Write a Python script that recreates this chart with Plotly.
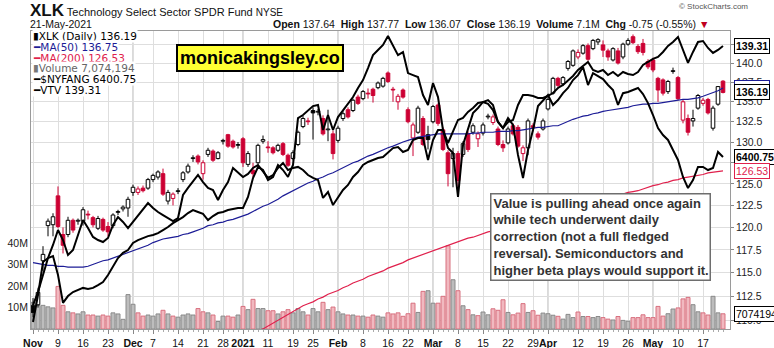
import math
import pandas as pd
import plotly.graph_objects as go

# ---------------------------------------------------------------- calendar
HOLIDAYS = ["2020-11-26", "2020-12-25", "2021-01-01", "2021-01-18",
            "2021-02-15", "2021-04-02"]
dates = [d.strftime("%Y-%m-%d") for d in pd.bdate_range("2020-11-02", "2021-05-21")
         if d.strftime("%Y-%m-%d") not in HOLIDAYS]

# ---------------------------------------------------------------- XLK daily
xlk_open = [111.5, 111.6, 116.3, 120.2, 120.3, 123.6, 119.2, 119.2, 120.8, 120.7,
            120.7, 121.5, 121.1, 119.9, 120.9, 120.1, 120.2, 121.7, 122.1, 122.2,
            124.0, 124.0, 124.5, 124.5, 125.5, 125.8, 126.2, 123.0, 123.3, 124.1,
            125.5, 126.4, 128.0, 128.3, 126.2, 128.5, 128.9, 128.0, 130.1, 130.9,
            130.1, 129.6, 130.4, 127.3, 126.6, 127.5, 130.1, 129.4, 129.3, 129.0,
            129.8, 128.4, 128.0, 129.7, 131.9, 132.6, 133.9, 133.7, 132.9, 131.5,
            131.0, 130.2, 132.9, 134.0, 133.9, 135.6, 135.4, 136.1, 136.6, 136.8,
            137.0, 138.7, 136.6, 135.0, 136.5, 134.0, 130.5, 131.2, 132.9, 130.9,
            132.5, 134.6, 131.5, 128.7, 128.0, 128.6, 128.5, 131.0, 131.2, 130.4,
            131.1, 133.1, 132.4, 131.6, 129.7, 129.9, 132.0, 131.8, 128.6, 129.3,
            132.0, 131.0, 131.6, 134.1, 136.1, 138.0, 137.3, 139.3, 139.7, 140.8,
            141.3, 142.3, 141.9, 142.8, 142.4, 141.6, 140.4, 141.6, 140.8, 142.5,
            143.5, 142.2, 142.6, 140.2, 140.4, 138.0, 137.8, 136.3, 138.9, 138.1,
            132.7, 132.9, 132.6, 134.2, 134.8, 135.3, 131.7, 134.7, 137.64]
xlk_high = [112.3, 113.4, 117.9, 121.0, 121.6, 124.7, 120.0, 121.2, 121.0, 121.0,
            122.3, 121.9, 121.3, 121.3, 121.1, 120.6, 121.6, 122.0, 122.5, 123.5,
            124.9, 124.7, 124.8, 125.7, 126.2, 126.6, 126.8, 124.3, 124.0, 124.5,
            126.5, 127.4, 128.4, 128.5, 127.8, 129.3, 129.1, 128.9, 130.4, 131.0,
            130.3, 130.0, 130.6, 128.9, 127.5, 129.8, 130.8, 130.1, 129.5, 129.8,
            130.0, 128.6, 129.0, 131.4, 133.2, 133.0, 134.3, 134.1, 133.3, 134.0,
            131.4, 132.0, 133.8, 134.3, 135.4, 135.9, 136.5, 136.7, 136.8, 137.6,
            138.2, 138.9, 136.9, 136.0, 136.7, 134.3, 132.4, 134.5, 133.2, 132.0,
            134.6, 134.8, 131.8, 129.0, 129.3, 128.9, 130.1, 131.3, 132.3, 131.3,
            132.4, 133.5, 133.4, 131.9, 130.2, 131.9, 132.3, 132.1, 129.6, 132.9,
            132.3, 131.3, 132.9, 135.6, 138.2, 138.2, 138.3, 140.4, 141.8, 141.8,
            142.5, 142.6, 143.2, 143.3, 143.0, 141.9, 142.1, 142.0, 142.7, 143.3,
            143.8, 142.5, 143.2, 140.5, 140.7, 138.2, 138.0, 137.8, 139.4, 138.3,
            135.3, 133.4, 134.0, 136.0, 135.5, 135.5, 134.5, 137.0, 137.77]
xlk_low = [110.3, 111.3, 115.2, 119.0, 119.0, 119.9, 117.1, 118.9, 119.4, 120.3,
           120.2, 120.9, 120.0, 119.7, 119.5, 119.0, 119.9, 121.4, 121.8, 121.2,
           123.6, 123.7, 124.0, 124.3, 125.2, 125.5, 123.6, 122.6, 122.5, 123.8,
           125.2, 126.2, 127.6, 127.3, 125.5, 128.2, 127.6, 127.9, 129.7, 129.3,
           129.2, 129.2, 127.0, 127.0, 125.8, 127.3, 129.8, 128.7, 128.5, 128.8,
           128.3, 127.0, 127.8, 129.5, 131.7, 132.1, 130.3, 133.3, 130.8, 130.1,
           127.9, 129.9, 132.6, 132.9, 133.7, 134.6, 135.2, 135.4, 134.9, 136.6,
           136.8, 137.4, 135.0, 134.0, 135.4, 132.3, 128.3, 131.0, 129.5, 129.1,
           132.3, 132.0, 128.9, 124.7, 124.6, 123.5, 128.2, 128.8, 130.9, 129.4,
           130.8, 132.8, 132.1, 129.5, 128.8, 129.7, 130.8, 129.3, 127.7, 128.4,
           131.3, 130.3, 131.4, 133.9, 135.9, 136.8, 137.0, 139.0, 139.5, 140.5,
           141.1, 140.3, 141.7, 142.4, 140.8, 140.3, 140.2, 139.8, 140.5, 142.3,
           142.5, 141.2, 141.0, 139.2, 138.8, 135.0, 135.8, 136.0, 138.6, 135.2,
           132.3, 130.8, 131.9, 134.0, 134.5, 133.4, 131.4, 134.5, 136.07]
xlk_close = [110.8, 112.9, 117.0, 120.7, 121.2, 120.1, 118.0, 120.8, 119.7, 120.8,
             122.0, 121.4, 120.3, 121.0, 119.7, 119.5, 121.4, 121.8, 122.3, 123.2,
             124.6, 124.4, 124.2, 125.5, 126.0, 126.4, 123.8, 124.0, 123.8, 124.2,
             126.3, 127.1, 128.1, 127.6, 127.5, 129.0, 127.8, 128.7, 130.2, 129.5,
             129.4, 129.7, 127.5, 128.6, 126.2, 129.6, 130.3, 129.3, 128.7, 129.6,
             128.5, 127.2, 128.7, 131.2, 132.9, 132.5, 133.6, 133.8, 131.0, 131.6,
             128.6, 131.7, 133.5, 133.1, 135.2, 134.8, 136.3, 136.0, 135.8, 137.4,
             138.0, 137.6, 136.5, 135.7, 135.6, 132.5, 132.1, 134.2, 129.7, 130.3,
             134.4, 132.3, 129.1, 126.2, 128.6, 125.4, 129.8, 129.1, 132.0, 131.0,
             132.1, 133.2, 133.1, 129.7, 129.3, 131.6, 131.0, 129.5, 129.3, 132.6,
             131.8, 130.6, 132.6, 135.3, 138.0, 137.1, 138.1, 140.2, 141.6, 141.4,
             142.3, 140.5, 143.0, 143.1, 141.7, 140.8, 141.9, 140.0, 142.5, 143.0,
             142.7, 141.5, 141.4, 139.5, 139.1, 136.5, 136.1, 137.6, 139.0, 135.4,
             135.0, 131.2, 132.9, 135.8, 135.2, 133.6, 134.2, 136.94, 136.19]
prev_close_first = 110.6

# volume, millions of shares
xlk_volume_m = [12.4, 11.0, 11.0, 10.3, 9.8, 19.8, 11.0, 8.0, 7.5, 7.0,
                8.0, 6.5, 6.5, 6.0, 6.5, 6.0, 7.5, 7.0, 4.5, 16.0,
                11.5, 7.5, 6.0, 6.5, 6.0, 7.0, 8.7, 7.0, 6.0, 5.5,
                6.5, 7.0, 6.5, 9.5, 8.0, 7.5, 6.5, 3.5, 6.0, 6.0,
                5.5, 6.5, 10.5, 9.0, 13.8, 9.5, 9.5, 8.5, 8.5, 7.0,
                8.0, 9.0, 7.5, 9.5, 8.0, 6.5, 9.5, 8.0, 12.4, 9.0,
                10.2, 8.0, 7.0, 6.5, 6.5, 6.0, 6.0, 5.5, 6.5, 6.0,
                5.5, 7.5, 7.0, 7.5, 5.9, 7.1, 12.0, 7.7, 17.5, 17.8,
                12.0, 12.0, 15.2, 38.7, 22.9, 17.8, 10.8, 9.0, 6.6, 6.2,
                7.9, 6.6, 9.4, 8.7, 13.6, 7.7, 6.6, 7.4, 11.8, 7.7,
                8.5, 6.4, 7.4, 7.1, 6.4, 5.9, 4.6, 6.8, 5.3, 7.9,
                5.8, 5.8, 5.3, 5.8, 5.3, 4.6, 4.2, 5.8, 4.0, 3.6,
                5.3, 5.3, 6.6, 5.3, 5.3, 10.5, 6.0, 7.1, 9.3, 9.8,
                14.0, 14.7, 11.3, 8.0, 7.5, 6.5, 15.2, 7.5, 7.074194]

ma50 = [116.1, 116.0, 115.9, 115.8, 115.8, 115.7, 115.7, 115.6, 115.6, 115.6,
        115.6, 115.7, 115.9, 116.1, 116.3, 116.4, 116.6, 116.8, 117.0, 117.2,
        117.4, 117.6, 117.8, 118.0, 118.3, 118.5, 118.7, 118.8, 118.9, 119.0,
        119.2, 119.3, 119.5, 119.7, 119.9, 120.2, 120.3, 120.5, 120.6, 120.8,
        120.9, 121.1, 121.3, 121.5, 121.8, 122.1, 122.4, 122.6, 122.9, 123.2,
        123.6, 123.9, 124.2, 124.5, 124.8, 125.1, 125.3, 125.6, 125.8, 126.1,
        126.3, 126.6, 126.9, 127.2, 127.5, 127.7, 128.0, 128.3, 128.5, 128.8,
        129.0, 129.3, 129.5, 129.8, 130.0, 130.2, 130.4, 130.6, 130.7, 130.8,
        130.9, 131.0, 131.0, 131.0, 131.0, 131.0, 131.0, 131.0, 131.1, 131.1,
        131.2, 131.2, 131.2, 131.3, 131.3, 131.3, 131.4, 131.4, 131.5, 131.6,
        131.7, 131.8, 131.8, 131.9, 132.0, 132.0, 132.3, 132.5, 132.8, 133.0,
        133.2, 133.3, 133.5, 133.6, 133.8, 133.9, 134.0, 134.1, 134.2, 134.3,
        134.5, 134.6, 134.7, 134.7, 134.8, 134.8, 134.9, 135.0, 135.1, 135.2,
        135.3, 135.3, 135.4, 135.5, 135.7, 135.9, 136.1, 136.4, 136.75]

ma200 = [None] * 40 + [
        107.4, 107.7, 108.0, 108.3, 108.6, 108.9, 109.1, 109.4, 109.7, 110.0,
        110.3, 110.6, 110.9, 111.2, 111.5, 111.7, 111.9, 112.2, 112.4, 112.7,
        112.9, 113.1, 113.4, 113.6, 113.9, 114.1, 114.3, 114.6, 114.8, 115.0,
        115.2, 115.5, 115.7, 115.9, 116.1, 116.4, 116.6, 116.8, 117.0, 117.2,
        117.4, 117.6, 117.8, 118.0, 118.2, 118.4, 118.6, 118.8, 118.9, 119.1,
        119.3, 119.5, 119.6, 119.8, 120.0, 120.1, 120.3, 120.5, 120.6, 120.8,
        121.0, 121.1, 121.3, 121.4, 121.6, 121.8, 121.9, 122.1, 122.3, 122.4,
        122.6, 122.7, 122.9, 123.1, 123.2, 123.4, 123.5, 123.7, 123.8, 124.0,
        124.1, 124.2, 124.4, 124.6, 124.8, 124.9, 125.1, 125.2, 125.4, 125.5,
        125.7, 125.8, 125.9, 126.0, 126.1, 126.3, 126.4, 126.5, 126.53]

nyfang = [5483, 5623, 5800, 5822, 5833, 5730, 5582, 5618, 5639, 5650,
          5661, 5655, 5661, 5676, 5692, 5730, 5779, 5822, 5850, 5866,
          5905, 5921, 5932, 5943, 5949, 5960, 5977, 5994, 6016, 6033,
          6050, 6073, 6090, 6079, 6068, 6033, 6056, 6073, 6079, 6090,
          6096, 6102, 6102, 6165, 6276, 6341, 6323, 6264, 6282, 6353,
          6323, 6282, 6353, 6639, 6658, 6689, 6714, 6721, 6565, 6658,
          6565, 6645, 6689, 6733, 6771, 6829, 6880, 6958, 7043, 7077,
          7110, 7170, 7110, 7043, 7063, 6925, 6912, 6899, 6784, 6721,
          6861, 6771, 6565, 6455, 6425, 6165, 6473, 6565, 6670, 6702,
          6740, 6752, 6721, 6615, 6577, 6639, 6596, 6413, 6276, 6443,
          6565, 6714, 6752, 6784, 6721, 6752, 6796, 6829, 6880, 6912,
          6965, 6848, 6925, 6906, 6886, 6848, 6816, 6721, 6796, 6803,
          6816, 6829, 6790, 6733, 6658, 6577, 6534, 6504, 6443, 6383,
          6282, 6217, 6264, 6341, 6341, 6323, 6335, 6431, 6400.75]

vtv = [109.26, 110.60, 112.38, 114.19, 115.59, 117.22, 116.13, 114.51, 115.05, 116.68,
       118.33, 117.44, 116.46, 116.13, 115.91, 116.35, 117.78, 118.66, 118.11, 117.44,
       118.11, 118.77, 119.44, 120.23, 119.67, 119.22, 118.88, 118.55, 118.22, 118.55,
       121.14, 121.94, 122.62, 123.43, 122.62, 121.94, 121.71, 120.57, 121.71, 122.62,
       124.25, 123.67, 123.20, 123.55, 124.25, 124.60, 123.78, 123.09, 123.43, 124.25,
       124.83, 124.01, 124.25, 124.37, 124.01, 123.43, 123.09, 122.85, 120.80, 121.48,
       120.00, 120.91, 121.71, 122.28, 123.20, 123.78, 124.60, 124.95, 125.18, 125.42,
       125.53, 126.12, 126.59, 126.71, 126.12, 126.36, 127.55, 127.79, 127.79, 125.18,
       127.55, 128.75, 128.75, 127.19, 128.51, 129.97, 130.21, 130.95, 131.44, 132.06,
       132.18, 131.94, 131.19, 129.72, 128.99, 129.72, 129.97, 131.81, 133.05, 133.05,
       132.93, 132.68, 132.68, 132.93, 133.30, 133.93, 134.31, 134.82, 135.45, 136.21,
       136.72, 137.24, 136.21, 135.95, 136.21, 135.57, 135.95, 135.45, 135.95, 135.70,
       135.57, 135.95, 136.85, 137.24, 137.63, 137.89, 138.53, 139.31, 139.83, 140.49,
       138.79, 137.11, 138.53, 139.83, 139.96, 139.05, 138.40, 138.79, 139.31]

# ---------------------------------------------------------------- axis labels
tick_dates = ["2020-11-02", "2020-11-09", "2020-11-16", "2020-11-23", "2020-12-01",
              "2020-12-07", "2020-12-14", "2020-12-21", "2020-12-28", "2021-01-04",
              "2021-01-11", "2021-01-19", "2021-01-25", "2021-02-01", "2021-02-08",
              "2021-02-16", "2021-02-22", "2021-03-01", "2021-03-08", "2021-03-15",
              "2021-03-22", "2021-03-29", "2021-04-01", "2021-04-12", "2021-04-19",
              "2021-04-26", "2021-05-03", "2021-05-10", "2021-05-17"]
tick_text = ["<b>Nov</b>", "9", "16", "23", "<b>Dec</b>", "7", "14", "21", "28",
             "<b>2021</b>", "11", "19", "25", "<b>Feb</b>", "8", "16", "22",
             "<b>Mar</b>", "8", "15", "22", "29", "<b>Apr</b>", "12", "19", "26",
             "<b>May</b>", "10", "17"]
month_dates = ["2020-12-01", "2021-01-04", "2021-02-01", "2021-03-01",
               "2021-04-01", "2021-05-03"]
price_ticks = [110.0, 112.5, 115.0, 117.5, 120.0, 122.5, 125.0, 127.5,
               130.0, 132.5, 135.0, 137.5, 140.0, 142.5]
price_tick_text = ["110.0", "112.5", "115.0", "117.5", "120.0", "122.5", "125.0", "",
                   "130.0", "132.5", "135.0", "137.5", "140.0", ""]
volume_ticks_m = [10, 20, 30, 40]

# ---------------------------------------------------------------- styling
BLACK = "#000000"
RED = "#cc0033"
NAVY = "#1c1c96"
MA200_RED = "#e0204c"
GRID = "#dedede"
MONTH_GRID = "#b4b4b4"
FRAME = "#9a9a9a"
SANS = "Liberation Sans, Arial, sans-serif"
LEGEND_FONT = "DejaVu Sans, Verdana, sans-serif"

W, H = 774, 348
ML, MR, MT, MB = 31, 44, 31, 19


def px(x):
    return (x - ML) / (W - ML - MR)


def py(y):
    return (H - MB - y) / (H - MT - MB)


n = len(xlk_close)
idx = list(range(n))
pos = {d: i for i, d in enumerate(dates)}
prev = [prev_close_first] + xlk_close[:-1]
is_up = [xlk_close[i] >= prev[i] for i in idx]          # black vs red
is_hollow = [xlk_close[i] > xlk_open[i] for i in idx]   # open vs filled body

fig = go.Figure()

# volume histogram on the left scale
fig.add_trace(go.Bar(
    x=idx, y=[v * 1e6 for v in xlk_volume_m], yaxis="y", width=0.8,
    marker=dict(color=["#bdbdbd" if u else "#f1b9c0" for u in is_up],
                line=dict(color=["#8a8a8a" if u else "#d8707f" for u in is_up], width=1)),
    showlegend=False, hoverinfo="skip"))

# candle wicks (split around the body so hollow bodies stay clean)
for colour, flag in ((BLACK, True), (RED, False)):
    wx, wy = [], []
    for i in idx:
        if is_up[i] != flag:
            continue
        top = max(xlk_open[i], xlk_close[i])
        bot = min(xlk_open[i], xlk_close[i])
        wx += [i, i, None, i, i, None]
        wy += [xlk_high[i], top, None, bot, xlk_low[i], None]
    fig.add_trace(go.Scatter(x=wx, y=wy, yaxis="y2", mode="lines",
                             line=dict(color=colour, width=1), showlegend=False,
                             hoverinfo="skip"))

# candle bodies
body_base = [min(xlk_open[i], xlk_close[i]) for i in idx]
body_len = [max(abs(xlk_close[i] - xlk_open[i]), 0.04) for i in idx]
edge = [BLACK if u else RED for u in is_up]
fill = ["white" if h else (BLACK if u else RED) for u, h in zip(is_up, is_hollow)]
fig.add_trace(go.Bar(x=idx, y=body_len, base=body_base, yaxis="y2", width=0.72,
                     marker=dict(color=fill, line=dict(color=edge, width=1)),
                     showlegend=False, hoverinfo="skip"))

fig.add_trace(go.Scatter(x=idx, y=ma50, yaxis="y2", mode="lines",
                         line=dict(color=NAVY, width=1.2), showlegend=False, hoverinfo="skip"))
fig.add_trace(go.Scatter(x=idx, y=ma200, yaxis="y2", mode="lines",
                         line=dict(color=MA200_RED, width=1.2), showlegend=False, hoverinfo="skip"))
fig.add_trace(go.Scatter(x=idx, y=nyfang, yaxis="y4", mode="lines",
                         line=dict(color=BLACK, width=2), showlegend=False, hoverinfo="skip"))
fig.add_trace(go.Scatter(x=idx, y=vtv, yaxis="y3", mode="lines",
                         line=dict(color=BLACK, width=2), showlegend=False, hoverinfo="skip"))

shapes = [dict(type="line", xref="x", yref="paper", x0=pos[d], x1=pos[d], y0=0, y1=1,
               line=dict(color=MONTH_GRID, width=1), layer="below") for d in month_dates]

annotations = []

# header
annotations.append(dict(
    xref="paper", yref="paper", x=px(28), y=py(10), xanchor="left", yanchor="middle",
    showarrow=False,
    text="<b><span style='font-size:17px'>XLK</span></b> Technology Select Sector SPDR Fund "
         "<span style='font-size:10px'>NYSE</span>",
    font=dict(family=SANS, size=11, color="#111")))
annotations.append(dict(
    xref="paper", yref="paper", x=px(28), y=py(23.5), xanchor="left", yanchor="middle",
    showarrow=False, text="21-May-2021", font=dict(family=SANS, size=10.5, color="#111")))
annotations.append(dict(
    xref="paper", yref="paper", x=px(677), y=py(6), xanchor="left", yanchor="middle",
    showarrow=False, text="© StockCharts.com", font=dict(family=SANS, size=8, color="#555")))
annotations.append(dict(
    xref="paper", yref="paper", x=px(271), y=py(23.5), xanchor="left", yanchor="middle",
    showarrow=False,
    text="<b>Open</b> 137.64  <b>High</b> 137.77  <b>Low</b> 136.07  <b>Close</b> 136.19  "
         "<b>Volume</b> 7.1M  <b>Chg</b> -0.75 (-0.55%) <span style='color:#c00020'>▼</span>",
    font=dict(family=SANS, size=10.5, color="#111")))

# legend rows
legend_rows = [
    ("<span style='color:#000'>▮</span>", "XLK (Daily) 136.19", "#000"),
    ("<span style='color:" + NAVY + "'>━</span>", "MA(50) 136.75", NAVY),
    ("<span style='color:" + MA200_RED + "'>━</span>", "MA(200) 126.53", MA200_RED),
    ("<span style='color:#777'>▮</span>", "Volume 7,074,194", "#666"),
    ("<span style='color:#000'>━</span>", "$NYFANG 6400.75", "#000"),
    ("<span style='color:#000'>━</span>", "VTV 139.31", "#000"),
]
for k, (icon, label, col) in enumerate(legend_rows):
    annotations.append(dict(
        xref="paper", yref="paper", x=px(32), y=py(36 + 10.8 * k), xanchor="left",
        yanchor="middle", showarrow=False, text=icon + label, bgcolor="white",
        borderpad=0, font=dict(family=LEGEND_FONT, size=10.5, color=col)))

# site badge
annotations.append(dict(
    xref="paper", yref="paper", x=px(260), y=py(57.5), xanchor="center", yanchor="middle",
    showarrow=False, text="<b>monicakingsley.co</b>", bgcolor="#ffff33",
    bordercolor="#000", borderwidth=2, borderpad=2,
    font=dict(family=SANS, size=18, color="#000")))

# commentary
annotations.append(dict(
    xref="paper", yref="paper", x=px(490), y=py(237), xanchor="left", yanchor="middle",
    showarrow=False, align="left", bgcolor="white", bordercolor="#6e6e6e",
    borderwidth=1.5, borderpad=1,
    text="<b>Value is pulling ahead once again<br>while tech underwent daily<br>"
         "correction (not a full fledged<br>reversal). Semiconductors and<br>"
         "higher beta plays would support it.</b>",
    font=dict(family=SANS, size=13, color="#333")))


def value_tag(text, yref, yval, color, bold=True):
    t = "<b>" + text + "</b>" if bold else text
    return dict(xref="paper", x=px(734), xanchor="left", yref=yref, y=yval,
                yanchor="middle", showarrow=False, text=t, bgcolor="white",
                bordercolor=color, borderwidth=1, borderpad=1,
                font=dict(family=SANS, size=10.5, color=color))


annotations.append(value_tag("136.75", "y2", math.log10(ma50[-1]), NAVY, bold=False))
annotations.append(value_tag("139.31", "y3", math.log10(vtv[-1]), BLACK))
annotations.append(value_tag("136.19", "y2", math.log10(xlk_close[-1]), BLACK))
annotations.append(value_tag("6400.75", "y4", math.log10(nyfang[-1]), BLACK))
annotations.append(value_tag("126.53", "y2", math.log10(ma200[-1]), MA200_RED, bold=False))
annotations.append(value_tag("7074194", "y", xlk_volume_m[-1] * 1e6, BLACK, bold=False))

price_lo, price_hi = 109.09, 144.27
vtv_lo, vtv_hi = 106.83, 141.28
fang_lo, fang_hi = 5447.0, 7204.0
vol_hi = 138.6e6

fig.update_layout(
    width=W, height=H, autosize=False,
    margin=dict(l=ML, r=MR, t=MT, b=MB, pad=0, autoexpand=False),
    paper_bgcolor="white", plot_bgcolor="white",
    font=dict(family=SANS, size=10, color="#222"),
    showlegend=False, dragmode=False, barmode="overlay",
    xaxis=dict(range=[-0.4, n + 0.4], tickmode="array", automargin=False,
               tickvals=[pos[d] for d in tick_dates], ticktext=tick_text, tickangle=0,
               showgrid=True, gridcolor=GRID, gridwidth=1, zeroline=False,
               ticks="outside", ticklen=4, tickcolor="#888",
               showline=True, linecolor=FRAME, mirror=True,
               tickfont=dict(family=SANS, size=10.5, color="#111"),
               minor=dict(tickmode="array", tickvals=idx, ticks="outside", ticklen=2,
                          tickcolor="#aaaaaa", showgrid=False),
               fixedrange=True),
    yaxis=dict(range=[0, vol_hi], tickmode="array", automargin=False,
               tickvals=[v * 1e6 for v in volume_ticks_m],
               ticktext=[str(v) + "M" for v in volume_ticks_m],
               showgrid=False, zeroline=False, ticks="", showline=True, linecolor=FRAME,
               tickfont=dict(family=SANS, size=10.5, color="#222"), fixedrange=True),
    yaxis2=dict(overlaying="y", side="right", type="log", automargin=False,
                range=[math.log10(price_lo), math.log10(price_hi)],
                tickmode="array", tickvals=price_ticks, ticktext=price_tick_text,
                showgrid=True, gridcolor=GRID, gridwidth=1, zeroline=False,
                ticks="outside", ticklen=3, tickcolor="#888",
                showline=True, linecolor=FRAME,
                tickfont=dict(family=SANS, size=10.5, color="#222"), fixedrange=True),
    yaxis3=dict(overlaying="y", type="log", visible=False, automargin=False,
                range=[math.log10(vtv_lo), math.log10(vtv_hi)], fixedrange=True),
    yaxis4=dict(overlaying="y", type="log", visible=False, automargin=False,
                range=[math.log10(fang_lo), math.log10(fang_hi)], fixedrange=True),
    shapes=shapes,
    annotations=annotations,
)

fig.write_html("out.html")
